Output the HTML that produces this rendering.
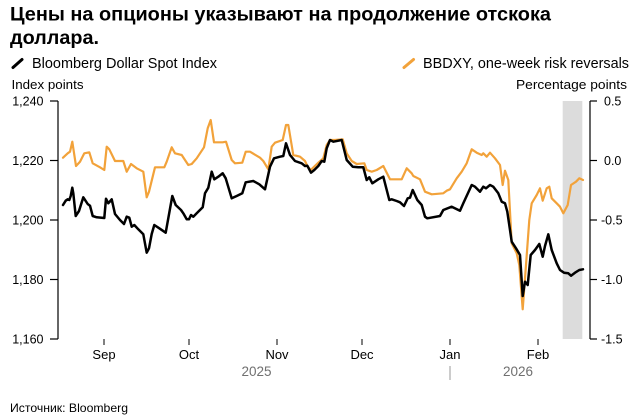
<!DOCTYPE html>
<html>
<head>
<meta charset="utf-8">
<style>
  html, body { margin:0; padding:0; background:#fff; }
  svg { display:block; }
  text { font-family: "Liberation Sans", "Noto Sans CJK SC", sans-serif; fill:#000; }
</style>
</head>
<body>
<svg width="636" height="416" viewBox="0 0 636 416" xmlns="http://www.w3.org/2000/svg">
  <!-- Title -->
  <text x="10" y="20.5" font-size="19.5" font-weight="bold" textLength="541" lengthAdjust="spacingAndGlyphs">Цены на опционы указывают на продолжение отскока</text>
  <text x="10" y="44" font-size="19.5" font-weight="bold" textLength="89" lengthAdjust="spacingAndGlyphs">доллара.</text>

  <!-- Legend -->
  <line x1="13" y1="67.5" x2="22" y2="59.5" stroke="#000" stroke-width="3" stroke-linecap="round"/>
  <text x="32" y="68" font-size="14.5" textLength="185" lengthAdjust="spacingAndGlyphs">Bloomberg Dollar Spot Index</text>
  <line x1="404" y1="67.5" x2="413.5" y2="59.5" stroke="#f2a23a" stroke-width="3" stroke-linecap="round"/>
  <text x="423" y="68" font-size="14.5" textLength="206" lengthAdjust="spacingAndGlyphs">BBDXY, one-week risk reversals</text>

  <!-- Axis titles -->
  <text x="11.5" y="89" font-size="13" textLength="72" lengthAdjust="spacingAndGlyphs">Index points</text>
  <text x="516" y="89" font-size="13" textLength="111" lengthAdjust="spacingAndGlyphs">Percentage points</text>

  <!-- Shaded region -->
  <rect x="562.7" y="101" width="19.6" height="238" fill="#dcdcdc"/>

  <!-- Left axis -->
  <g stroke="#000" stroke-width="1.2" fill="none">
    <line x1="58" y1="101" x2="58" y2="339"/>
    <line x1="50" y1="101" x2="58" y2="101"/>
    <line x1="50" y1="160.5" x2="58" y2="160.5"/>
    <line x1="50" y1="220" x2="58" y2="220"/>
    <line x1="50" y1="279.5" x2="58" y2="279.5"/>
    <line x1="50" y1="339" x2="58" y2="339"/>
  </g>
  <g font-size="12.5" text-anchor="end">
    <text x="43.5" y="105.5">1,240</text>
    <text x="43.5" y="165">1,220</text>
    <text x="43.5" y="224.5">1,200</text>
    <text x="43.5" y="284">1,180</text>
    <text x="43.5" y="343.5">1,160</text>
  </g>

  <!-- Right axis -->
  <g stroke="#000" stroke-width="1.2" fill="none">
    <line x1="590" y1="101" x2="590" y2="339"/>
    <line x1="590" y1="101" x2="597" y2="101"/>
    <line x1="590" y1="160.5" x2="597" y2="160.5"/>
    <line x1="590" y1="220" x2="597" y2="220"/>
    <line x1="590" y1="279.5" x2="597" y2="279.5"/>
    <line x1="590" y1="339" x2="597" y2="339"/>
  </g>
  <g font-size="12.5">
    <text x="604" y="105.5">0.5</text>
    <text x="604" y="165">0.0</text>
    <text x="601" y="224.5">-0.5</text>
    <text x="601" y="284">-1.0</text>
    <text x="601" y="343.5">-1.5</text>
  </g>

  <!-- X ticks -->
  <g stroke="#000" stroke-width="1">
    <line x1="104" y1="339" x2="104" y2="345"/>
    <line x1="189" y1="339" x2="189" y2="345"/>
    <line x1="277" y1="339" x2="277" y2="345"/>
    <line x1="362" y1="339" x2="362" y2="345"/>
    <line x1="450" y1="339" x2="450" y2="345"/>
    <line x1="538" y1="339" x2="538" y2="345"/>
  </g>
  <g font-size="13" text-anchor="middle">
    <text x="104" y="359">Sep</text>
    <text x="189" y="359">Oct</text>
    <text x="277" y="359">Nov</text>
    <text x="362" y="359">Dec</text>
    <text x="450" y="359">Jan</text>
    <text x="538" y="359">Feb</text>
  </g>
  <g font-size="13.5" text-anchor="middle" style="fill:#707070">
    <text x="256.5" y="376" style="fill:#707070">2025</text>
    <text x="518" y="376" style="fill:#707070">2026</text>
  </g>
  <line x1="450" y1="366" x2="450" y2="380" stroke="#9a9a9a" stroke-width="1"/>

  <!-- Series: orange -->
  <polyline fill="none" stroke="#f2a23a" stroke-width="2.2" stroke-linejoin="round" stroke-linecap="round"
    points="63,157.7 67.7,153.3 70,151.7 72.3,141.7 76,166 80,161.7 84.3,153.3 89.3,152.3 92.7,163.3 100,167.3 104.3,170 106.7,146.7 109.3,149.3 115,161 123.3,161 126.7,171.7 131,164 136.7,168.3 143.3,171.7 146.7,197.3 149,191.7 155,167.3 164.3,167.3 166.7,161.7 171.7,147.3 175,153.3 181.7,155 188.3,165 191.7,164 196.7,158.3 204,147.3 207.7,128.3 210.7,120 214,142.3 222.7,142.3 226,141.7 231.7,160 235,163.3 242.3,162.7 245.7,151.7 250,151.7 260,157.7 263.3,161 268.3,169.3 271.7,146.7 275,142.7 282.7,140 286,125 288.3,125 293.3,155 300,156.7 305,161 307.3,166 310.7,170 318.3,162.7 323.3,158.3 326.7,145 330,140 335,140 342.7,139.3 346.7,153.3 351.7,161 356.7,164 364.3,163.3 366.7,170 371.7,171.7 376.7,170 383.3,166 390,179.3 401.7,179.3 406.7,168.3 411.7,173.3 413.3,176 420,179.3 425,191.7 431.7,194.3 443.3,193.3 446.7,190.7 450,189.3 456.7,178.3 461.7,171.7 466.7,163.3 471.7,149.3 476.7,152.7 481.7,155 483.3,153.3 486.7,156.7 490,152.7 495,158.3 500,165 502.7,185 505,170.7 508.3,180 511.7,243.3 516.7,253.3 519.3,265 522.7,309.3 526,265 529.3,220 531.7,203.3 536.7,195 540,188.3 542.7,200.7 546.7,188.3 549.3,186.7 551.7,198.3 556.7,203.3 560,206.7 563.3,213.3 567.7,205 571,185 576,181.7 579.3,178.3 583,180"/>

  <!-- Series: black -->
  <polyline fill="none" stroke="#000" stroke-width="2.5" stroke-linejoin="round" stroke-linecap="round"
    points="63,205 65.7,200.7 67.7,199.3 69.3,200 70.7,196 72.3,187.7 73.3,193.3 75.7,216 79,211 83.3,197.3 87.7,204 90,205.7 92.7,216 96.7,217.3 104.3,218 106,198.7 108.3,203.3 111.7,199.3 115,214 120,220 124,224 126.7,216.7 129.3,217.7 131.7,226.7 134.3,225 138.3,229.3 143.3,234.3 146.7,252.7 149,248.3 151.7,234 154.3,225 159.3,228.3 165.7,232.7 172.3,196 175.7,205 181,210 183.3,213.3 186.7,219.3 189,219.3 191,215 193.3,216.7 196.7,213.3 202.7,207.3 205,193.3 208.3,187.7 211.7,171.7 214.3,179.3 218.3,176.7 222.7,173.3 225.7,178.3 231.7,198.3 236.7,196 242.3,193.3 245.7,182.3 253.3,181 259.3,184.3 265,189.3 270,166.7 274,158.3 280,156.7 283.3,156 286,143.3 290,155 295,161 301.7,163.3 305,166 307.3,165.7 311,172.7 314.3,170 318.3,166 321.7,161 324.3,161.7 326.7,148.3 330,140 333.3,141.7 341.7,140 346.7,160 352.7,166.7 358.3,167.3 363.3,167.3 366.7,180 369.3,177.3 372.3,183.3 378.3,179.3 383.3,176.7 389.3,200 391.7,199.3 396.7,201 400,202.3 404,206 407.7,198.3 410,197.7 412.7,190 417.3,200 421.7,205 425,216.7 427.3,218.3 440,216 443.3,210 451.7,206.7 460,210.7 463.3,203.3 471.7,185 475,186.7 480,191.7 483.3,186.7 486,188.3 490,185 493.3,186.7 498.3,193.3 501.7,201.7 505,203.3 507.3,211.7 510,230 511.7,241.7 516,248.3 520,255 522.7,296 525,281.7 527.7,285 530.7,255 535,250 539.3,244 542.7,256.7 545,246 548.3,234.3 551.7,250 556.7,263.3 560,270 564,272.7 568.3,273.3 571,275.7 575,272.7 579.3,270 583,269.3"/>

  <!-- Source -->
  <text x="10" y="412" font-size="12" textLength="118" lengthAdjust="spacingAndGlyphs">Источник: Bloomberg</text>
</svg>
</body>
</html>
